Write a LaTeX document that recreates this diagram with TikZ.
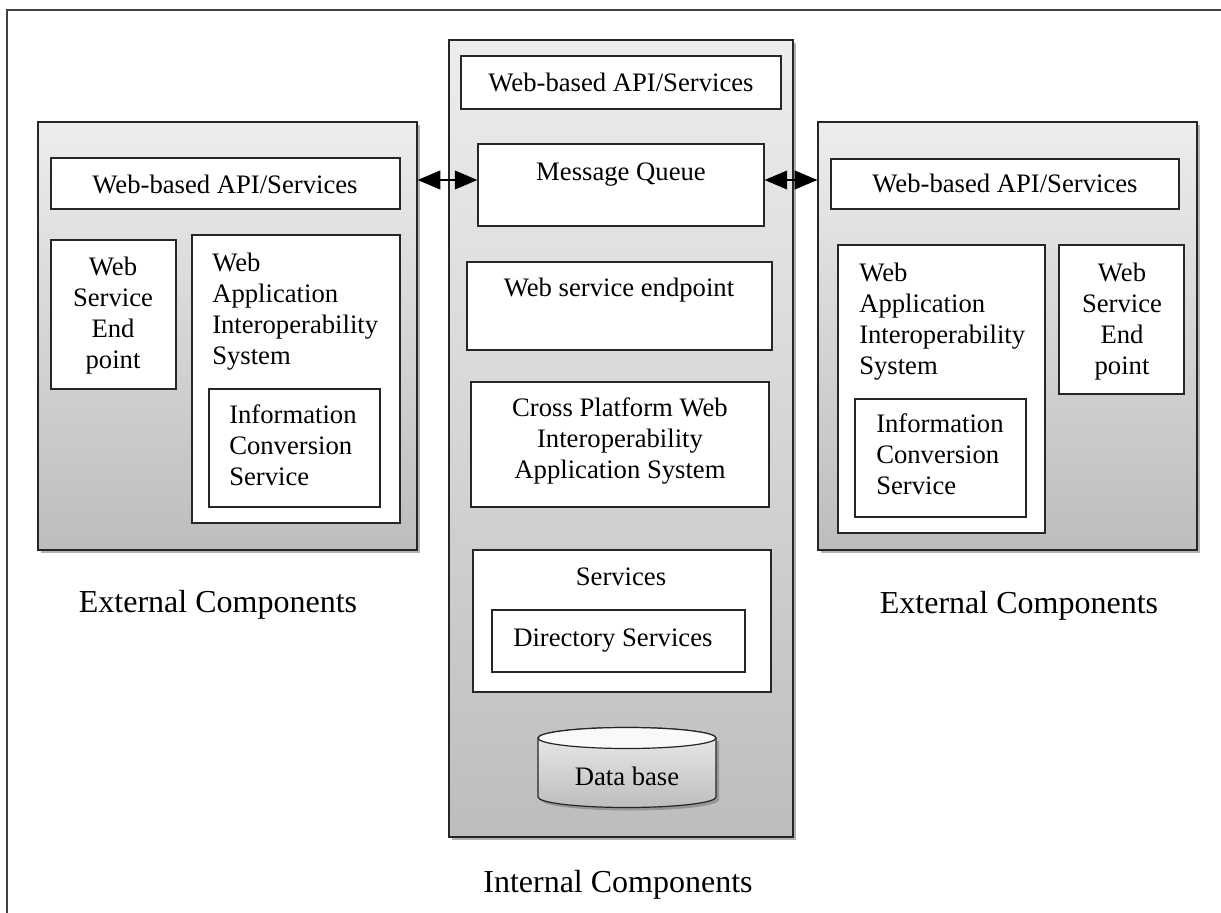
\documentclass[tikz,border=0pt]{standalone}
\usepackage{fontspec}
\setmainfont{Liberation Serif}
\usetikzlibrary{fit,shadows,arrows.meta,calc}
\definecolor{gtop}{HTML}{EDEDED}
\definecolor{gbot}{HTML}{BDBDBD}
\definecolor{frame}{HTML}{404040}
\newcommand\diagfont{\fontsize{20}{23.25}\selectfont}
\newcommand\labfont{\fontsize{24}{28}\selectfont}
\begin{document}
\begin{tikzpicture}[x=0.75pt,y=0.75pt,
  graybox/.style={draw=black!85, line width=0.9pt, top color=gtop, bottom color=gbot, inner sep=0pt,
    drop shadow={shadow xshift=2.5pt, shadow yshift=-2.5pt, opacity=0.3, fill=black}},
  whitebox/.style={draw=black!85, line width=0.8pt, fill=white, inner sep=0pt},
  txt/.style={font=\diagfont, inner sep=0pt},
  lab/.style={font=\labfont, inner sep=0pt, anchor=base},
  biarrow/.style={line width=1.4pt, black, {Triangle[length=17pt,width=14pt]}-{Triangle[length=17pt,width=14pt]}}
]
\useasboundingbox (0,0) rectangle (1221,-913);
% outer frame (partial)
\draw[frame, line width=1.6pt] (7,-913) -- (7,-10) -- (1221,-10);

% ---------- left external box ----------
\node[graybox, fit={(38,-122)(417,-550)}] (lb) {};
\node[whitebox, fit={(51,-158)(400,-209)}] (lapi) {};
\node[txt, anchor=base] (lapit) at (225,-194) {Web-based API/Services};
\node[whitebox, fit={(51,-240)(176,-389)}] (lwse) {};
\node[txt, anchor=north, align=center] (lwset) at (113,-254) {\strut Web\\Service\\End\\point};
\node[whitebox, fit={(192,-235)(400,-523)}] (lwa) {};
\node[txt, anchor=north west, align=left] (lwat) at (212,-250) {\strut Web\\Application\\Interoperability\\System};
\node[whitebox, fit={(209,-389)(380,-507)}] (lic) {};
\node[txt, anchor=north west, align=left] (lict) at (229,-402) {\strut Information\\Conversion\\Service};
\node[lab] (lext) at (218,-612) {External Components};

% ---------- center internal box ----------
\node[graybox, fit={(449,-40)(793,-837)}] (cb) {};
\node[whitebox, fit={(461,-56)(781,-109)}] (capi) {};
\node[txt, anchor=base] (capit) at (621,-92) {Web-based API/Services};
\node[whitebox, fit={(478,-144)(764,-226)}] (mq) {};
\node[txt, anchor=base] (mqt) at (621,-181) {Message Queue};
\node[whitebox, fit={(467,-262)(772,-350)}] (wse) {};
\node[txt, anchor=base] (wset) at (619,-296) {Web service endpoint};
\node[whitebox, fit={(471,-382)(769,-507)}] (cpw) {};
\node[txt, anchor=north, align=center] (cpwt) at (620,-395) {\strut Cross Platform Web\\Interoperability\\Application System};
\node[whitebox, fit={(473,-550)(771,-692)}] (srv) {};
\node[txt, anchor=base] (srvt) at (621,-585) {Services};
\node[whitebox, fit={(492,-610)(745,-672)}] (dir) {};
\node[txt, anchor=base west] (dirt) at (513,-646) {Directory Services};
% database cylinder
\fill[black, opacity=0.22] (541,-741) -- (541,-800) arc[start angle=180, end angle=360, x radius=89, y radius=10.5] -- (719,-741) -- cycle;
\path[draw=black!85, line width=0.9pt, top color=gtop, bottom color=gbot]
  (538,-738) -- (538,-797) arc[start angle=180, end angle=360, x radius=89, y radius=10.5]
  -- (716,-738) arc[start angle=0, end angle=180, x radius=89, y radius=10.5] -- cycle;
\draw[black!85, line width=0.9pt, fill=white!95!gray] (627,-738) ellipse[x radius=89, y radius=10.5];
\node[txt, anchor=base] (db) at (627,-785) {Data base};
\node[lab] (iext) at (618,-892) {Internal Components};

% ---------- right external box ----------
\node[graybox, fit={(818,-122)(1197,-550)}] (rb) {};
\node[whitebox, fit={(831,-159)(1179,-209)}] (rapi) {};
\node[txt, anchor=base] (rapit) at (1005,-193) {Web-based API/Services};
\node[whitebox, fit={(838,-245)(1045,-533)}] (rwa) {};
\node[txt, anchor=north west, align=left] (rwat) at (859,-260) {\strut Web\\Application\\Interoperability\\System};
\node[whitebox, fit={(1059,-245)(1184,-394)}] (rwse) {};
\node[txt, anchor=north, align=center] (rwset) at (1122,-260) {\strut Web\\Service\\End\\point};
\node[whitebox, fit={(855,-399)(1026,-517)}] (ric) {};
\node[txt, anchor=north west, align=left] (rict) at (876,-411) {\strut Information\\Conversion\\Service};
\node[lab] (rext) at (1019,-613) {External Components};

% ---------- connectors ----------
\coordinate (mql) at ([yshift=3.75pt]mq.west);
\coordinate (mqr) at ([yshift=3.75pt]mq.east);
\draw[biarrow] (lb.east |- mql) -- (mql);
\draw[biarrow] (mqr) -- (rb.west |- mqr);
\end{tikzpicture}
\end{document}
